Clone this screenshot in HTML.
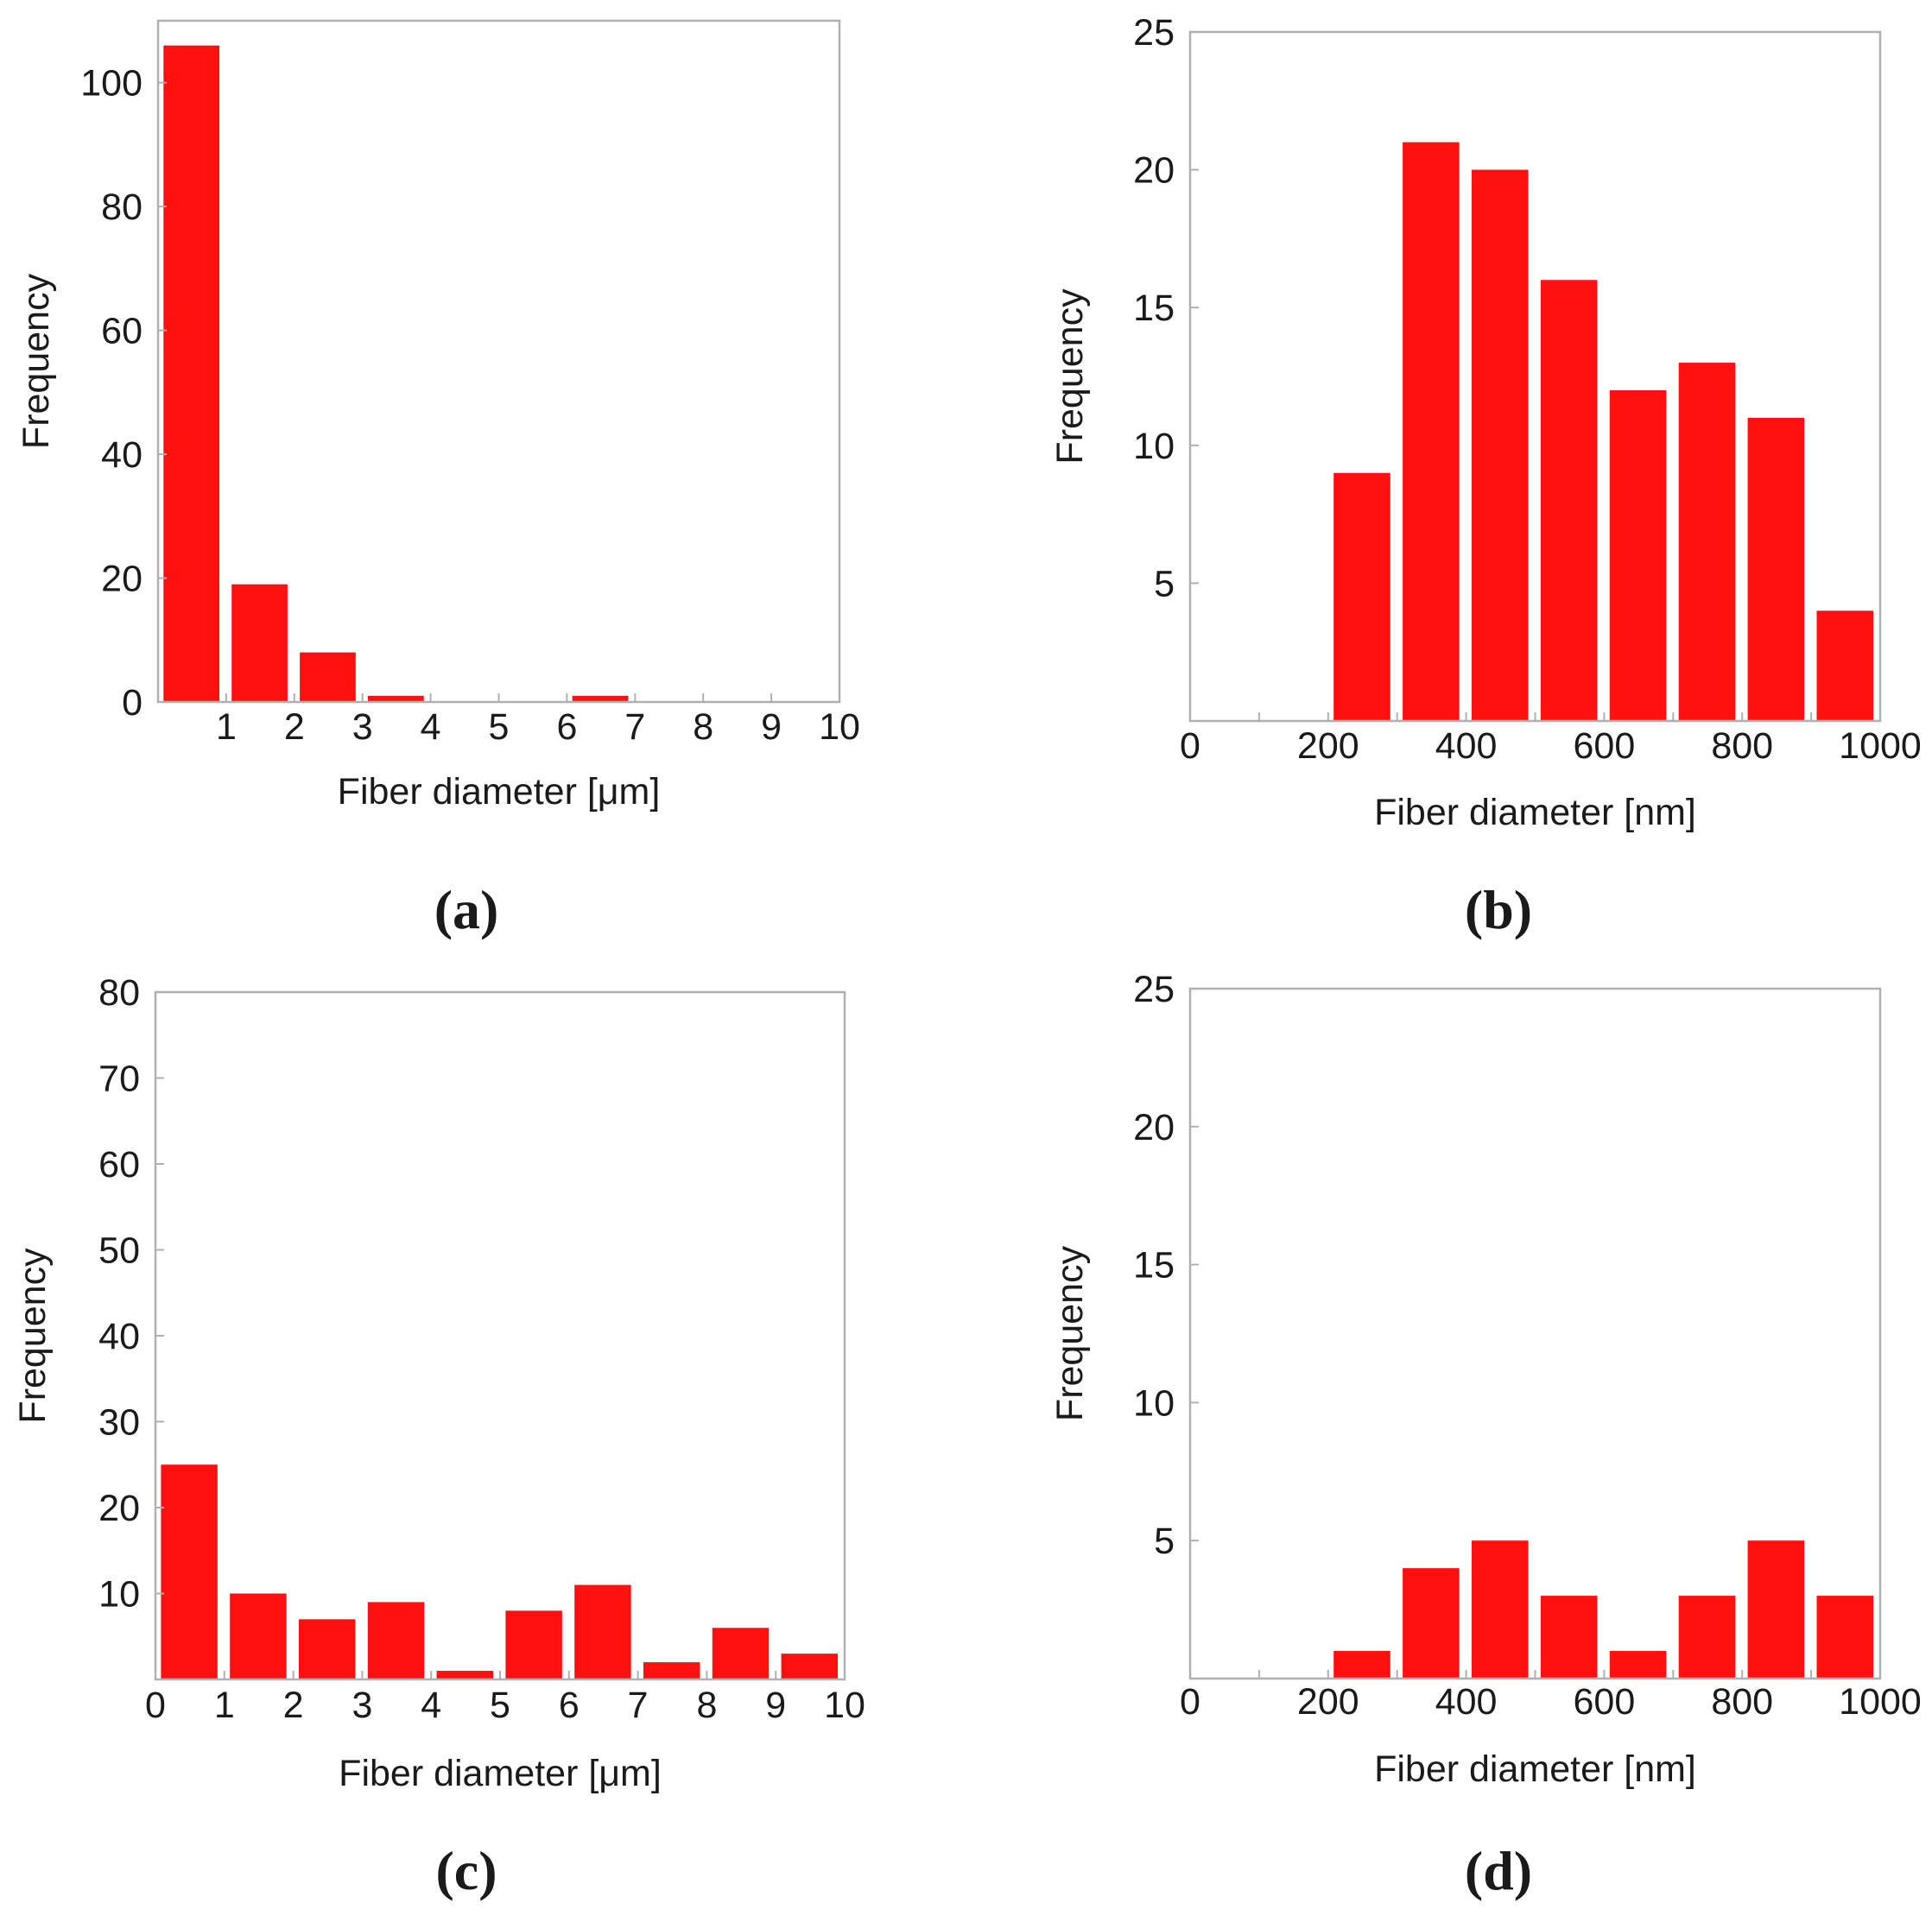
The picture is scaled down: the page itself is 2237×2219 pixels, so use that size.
<!DOCTYPE html>
<html><head><meta charset="utf-8"><style>
html,body{margin:0;padding:0;background:#fff;}
svg{display:block;}
text{font-family:"Liberation Sans",Arial,sans-serif;fill:#1a1a1a;}
.pl{font-family:"Liberation Serif",serif;font-weight:bold;}
</style></head><body>
<svg id="fig" width="2237" height="2219" viewBox="0 0 2237 2219" xmlns="http://www.w3.org/2000/svg"></svg>
<script>
// Data
const binsA = [0,1,2,3,4,5,6,7,8,9];
const valuesA = [106,19,8,1,0,0,1,0,0,0];
const yTicksA = [0,20,40,60,80,100];
const xTicksA = [1,2,3,4,5,6,7,8,9,10];

const binsB = [0,100,200,300,400,500,600,700,800,900];
const valuesB = [0,0,9,21,20,16,12,13,11,4];
const yTicksB = [5,10,15,20,25];
const xTicksB = [0,200,400,600,800,1000];

const binsC = [0,1,2,3,4,5,6,7,8,9];
const valuesC = [25,10,7,9,1,8,11,2,6,3];
const yTicksC = [10,20,30,40,50,60,70,80];
const xTicksC = [0,1,2,3,4,5,6,7,8,9,10];

const binsD = [0,100,200,300,400,500,600,700,800,900];
const valuesD = [0,0,1,4,5,3,1,3,5,3];
const yTicksD = [5,10,15,20,25];
const xTicksD = [0,200,400,600,800,1000];

const NS='http://www.w3.org/2000/svg';
const svg=document.getElementById('fig');
function mk(tag,attrs,parent){const e=document.createElementNS(NS,tag);for(const k in attrs)e.setAttribute(k,attrs[k]);(parent||svg).appendChild(e);return e;}

function panel(id,box,xmax,ymax,bins,vals,binW,yT,xT,xTitle,letter,lay){
  const g=mk('g',{});
  
  
  const xs=v=>box.l+(v/xmax)*(box.r-box.l);
  const ys=v=>box.b-(v/ymax)*(box.b-box.t);
  bins.forEach((b,i)=>{
    if(vals[i]<=0) return;
    const x0=xs(b+binW*0.08), x1=xs(b+binW*0.9);
    const r=mk('rect',{x:x0,y:ys(vals[i]),width:x1-x0,height:ys(0)-ys(vals[i]),fill:'#ff1010'},g);
    
    
  });
  const f=mk('rect',{x:box.l,y:box.t,width:box.r-box.l,height:box.b-box.t,fill:'none',stroke:'#b0b0b0','stroke-width':2.5},g);
  
  
  for(let i=0;i<=10;i++){
    const x=xs(xmax*i/10);
    mk('line',{x1:x,x2:x,y1:box.b,y2:box.b-10,stroke:'#b0b0b0','stroke-width':2},g);
  }
  yT.forEach(v=>{
    const y=ys(v);
    mk('line',{x1:box.l,x2:box.l+10,y1:y,y2:y,stroke:'#b0b0b0','stroke-width':2},g);
    const t=mk('text',{x:box.l-18,y:y+15,'text-anchor':'end','font-size':43},g);
    t.textContent=v;
    
    
  });
  xT.forEach(v=>{
    const t=mk('text',{x:xs(v),y:lay.xt,'text-anchor':'middle','font-size':43},g);
    t.textContent=v;
    
    
  });
  const xt=mk('text',{x:(box.l+box.r)/2,y:lay.xtitle,'text-anchor':'middle','font-size':43},g);
  xt.textContent=xTitle;
  
  
  const yt=mk('text',{x:0,y:0,'text-anchor':'middle','font-size':43,transform:'translate('+lay.yx+','+(box.t+box.b)/2+') rotate(-90)'},g);
  yt.textContent='Frequency';
  
  
  const pl=mk('text',{x:lay.plx,y:lay.pl,'text-anchor':'middle','font-size':64,'class':'pl'},g);
  pl.textContent='('+letter+')';
  
  
}
panel('a',{l:183,r:972,t:24,b:813},10,110,binsA,valuesA,1,yTicksA,xTicksA,'Fiber diameter [\u03bcm]','a',{xt:856,xtitle:931,yx:56,pl:1075,plx:540});
panel('b',{l:1378,r:2177,t:37,b:835},1000,25,binsB,valuesB,100,yTicksB,xTicksB,'Fiber diameter [nm]','b',{xt:878,xtitle:955,yx:1253,pl:1075,plx:1735});
panel('c',{l:180,r:978,t:1149,b:1945},10,80,binsC,valuesC,1,yTicksC,xTicksC,'Fiber diameter [\u03bcm]','c',{xt:1989,xtitle:2068,yx:52,pl:2188,plx:540});
panel('d',{l:1378,r:2177,t:1145,b:1944},1000,25,binsD,valuesD,100,yTicksD,xTicksD,'Fiber diameter [nm]','d',{xt:1985,xtitle:2063,yx:1253,pl:2188,plx:1735});
</script>
</body></html>
